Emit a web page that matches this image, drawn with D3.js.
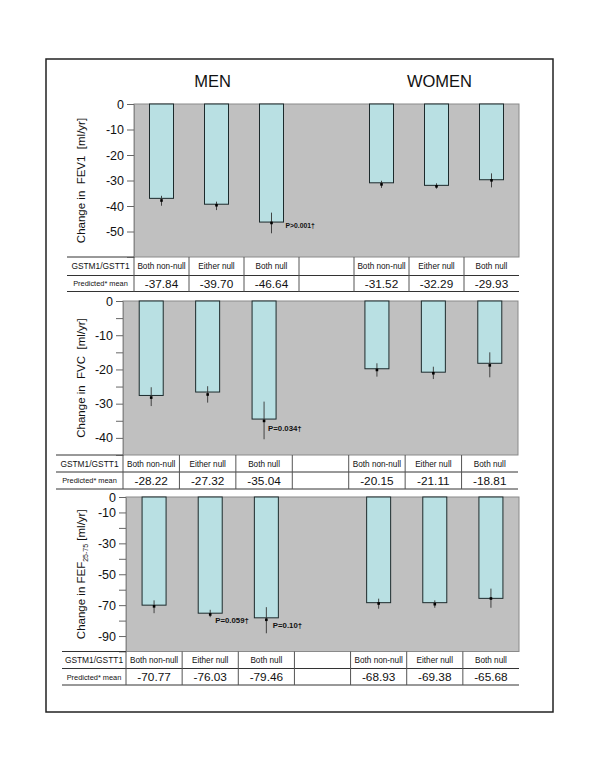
<!DOCTYPE html>
<html><head><meta charset="utf-8">
<script src="https://cdn.jsdelivr.net/npm/d3@7"></script>
<style>
body{margin:0;background:#fff}
svg{display:block}
text{font-family:"Liberation Sans",Arial,Helvetica,sans-serif;fill:#111}
</style>
</head><body>
<svg id="c" width="600" height="776"></svg>
<script>
// ---------------- DATA ----------------
const groups = ["MEN", "WOMEN"];
const categories = ["Both non-null", "Either null", "Both null"];
const rowLabels = ["GSTM1/GSTT1", "Predicted* mean"];

const fev1Bars  = [-37.0, -39.3, -46.3, -30.9, -31.9, -29.7];
const fev1Means = [-37.84, -39.70, -46.64, -31.52, -32.29, -29.93];
const fev1Low   = [-39.9, -41.6, -50.7, -32.9, -33.2, -32.7];
const fev1High  = [-36.0, -38.3, -42.6, -30.1, -31.1, -27.2];
const fev1Ticks = [0, -10, -20, -30, -40, -50];
const fev1TickLabels = ["0", "-10", "-20", "-30", "-40", "-50"];

const fvcBars  = [-27.6, -26.6, -34.5, -19.8, -20.8, -18.2];
const fvcMeans = [-28.22, -27.32, -35.04, -20.15, -21.11, -18.81];
const fvcLow   = [-30.7, -29.7, -40.4, -22.1, -22.8, -22.3];
const fvcHigh  = [-25.2, -24.9, -29.4, -18.2, -19.2, -15.0];
const fvcTicks = [0, -5, -10, -15, -20, -25, -30, -35, -40];
const fvcTickLabels = ["0", "", "-10", "", "-20", "", "-30", "", "-40"];

const fefBars  = [-70.0, -75.2, -78.2, -68.4, -68.4, -65.6];
const fefMeans = [-70.77, -76.03, -79.46, -68.93, -69.38, -65.68];
const fefLow   = [-75.2, -77.8, -88.2, -72.3, -71.7, -71.7];
const fefHigh  = [-66.9, -73.0, -71.3, -65.8, -66.9, -59.3];
const fefTicks = [0, -10, -20, -30, -40, -50, -60, -70, -80, -90];
const fefTickLabels = ["0", "-10", "", "-30", "", "-50", "", "-70", "", "-90"];

const annotations = [
  {panel: 0, index: 2, text: "P>0.001†"},
  {panel: 1, index: 2, text: "P=0.034†"},
  {panel: 2, index: 1, text: "P=0.059†"},
  {panel: 2, index: 2, text: "P=0.10†"}
];

// ---------------- LAYOUT ----------------
const panels = [
  {bars: fev1Bars, means: fev1Means, low: fev1Low, high: fev1High, ticks: fev1Ticks, tickLabels: fev1TickLabels,
   yMin: -60, top: 104, bottom: 257, left: 134, right: 519, tableLeft: 67, row1: 18.5, row2: 16,
   label: ["Change in  FEV1  [ml/yr]"], annSize: 6.8, annDy: 5.5, annDx: 14},
  {bars: fvcBars, means: fvcMeans, low: fvcLow, high: fvcHigh, ticks: fvcTicks, tickLabels: fvcTickLabels,
   yMin: -45, top: 301, bottom: 455, left: 123, right: 518, tableLeft: 56, row1: 17, row2: 17,
   label: ["Change in  FVC  [ml/yr]"], annSize: 7.8, annDy: 10, annDx: 4},
  {bars: fefBars, means: fefMeans, low: fefLow, high: fefHigh, ticks: fefTicks, tickLabels: fefTickLabels,
   yMin: -100, top: 497, bottom: 651.5, left: 126, right: 519, tableLeft: 62, row1: 17, row2: 16.5,
   label: null, annSize: 7.8, annDy: 8.5, annDx: 5}
];

const svg = d3.select("#c");
const BAR_FILL = "#b9e0e3";
const PLOT_FILL = "#c0c0c0";

// outer frame
svg.append("rect").attr("x", 46).attr("y", 59).attr("width", 507).attr("height", 653)
  .attr("fill", "none").attr("stroke", "#222").attr("stroke-width", 1.5);

// slots: 3 men, gap, 3 women
const slots = [];
groups.forEach((g, gi) => {
  categories.forEach((c, ci) => slots.push(g + "|" + c));
  if (gi === 0) slots.push("gap");
});
const dataSlots = slots.filter(s => s !== "gap");

panels.forEach((p, pi) => {
  const g = svg.append("g");
  const x = d3.scaleBand().domain(slots).range([p.left, p.right]).paddingInner(0).paddingOuter(0);
  const y = d3.scaleLinear().domain([0, p.yMin]).range([p.top, p.bottom]);
  const bw = 24;

  // plot background
  g.append("rect").attr("x", p.left).attr("y", p.top)
    .attr("width", p.right - p.left).attr("height", p.bottom - p.top)
    .attr("fill", PLOT_FILL).attr("stroke", "#8a8a8a").attr("stroke-width", 1);

  // axis
  const axis = d3.axisLeft(y).tickValues(p.ticks).tickSize(7).tickPadding(3)
    .tickFormat((d, i) => p.tickLabels[i]);
  const ax = g.append("g").attr("transform", `translate(${p.left},0)`).call(axis);
  ax.select(".domain").attr("stroke", "#8a8a8a");
  ax.selectAll(".tick line").attr("stroke", "#666");
  ax.selectAll(".tick text").attr("font-size", 12.5).attr("fill", "#111")
    .attr("font-family", "'Liberation Sans',Arial,sans-serif");

  // bars
  const cx = i => x(dataSlots[i]) + x.bandwidth() / 2;
  g.selectAll("rect.bar").data(p.bars).join("rect").attr("class", "bar")
    .attr("x", (d, i) => cx(i) - bw / 2).attr("y", y(0))
    .attr("width", bw).attr("height", d => y(d) - y(0))
    .attr("fill", BAR_FILL).attr("stroke", "#1c2a2c").attr("stroke-width", 1);

  // error bars
  g.selectAll("line.err").data(p.means).join("line").attr("class", "err")
    .attr("x1", (d, i) => cx(i)).attr("x2", (d, i) => cx(i))
    .attr("y1", (d, i) => y(p.low[i])).attr("y2", (d, i) => y(p.high[i]))
    .attr("stroke", "#333").attr("stroke-width", 0.9);
  g.selectAll("rect.dot").data(p.means).join("rect").attr("class", "dot")
    .attr("x", (d, i) => cx(i) - 1.3).attr("y", d => y(d) - 1.3)
    .attr("width", 2.6).attr("height", 2.6).attr("fill", "#000");

  // y label
  const ly = (p.top + p.bottom) / 2;
  const t = g.append("text").attr("transform", `translate(85,${ly}) rotate(-90)`)
    .attr("text-anchor", "middle").attr("font-size", 11.5).style("white-space", "pre");
  if (p.label) {
    t.text(p.label[0]);
  } else {
    t.append("tspan").text("Change in FEF");
    t.append("tspan").attr("font-size", 7).attr("dy", 3).text("25-75");
    t.append("tspan").attr("dy", -3).text(" [ml/yr]");
  }

  // table
  const r0 = p.bottom, r1 = p.bottom + p.row1, r2 = r1 + p.row2;
  [r1, r2].forEach(ry => g.append("line").attr("x1", p.tableLeft).attr("x2", p.right)
    .attr("y1", ry).attr("y2", ry).attr("stroke", "#333").attr("stroke-width", 1));
  g.append("line").attr("x1", p.tableLeft).attr("x2", p.left).attr("y1", r0).attr("y2", r0)
    .attr("stroke", "#333").attr("stroke-width", 1);
  const seps = [p.left].concat(slots.slice(0, -1).map(s => x(s) + x.bandwidth()));
  g.selectAll("line.sep").data(seps).join("line").attr("class", "sep")
    .attr("x1", d => d).attr("x2", d => d).attr("y1", r0).attr("y2", r2)
    .attr("stroke", "#555").attr("stroke-width", 1);

  const lc = (p.tableLeft + p.left) / 2;
  g.append("text").attr("x", lc).attr("y", (r0 + r1) / 2 + 3.2).attr("text-anchor", "middle")
    .attr("font-size", 8.4).text(rowLabels[0]);
  g.append("text").attr("x", lc).attr("y", (r1 + r2) / 2 + 2.8).attr("text-anchor", "middle")
    .attr("font-size", 7.4).text(rowLabels[1]);

  g.selectAll("text.cat").data(dataSlots).join("text").attr("class", "cat")
    .attr("x", (d, i) => cx(i)).attr("y", (r0 + r1) / 2 + 3.2).attr("text-anchor", "middle")
    .attr("font-size", 8.2).text(d => d.split("|")[1]);
  g.selectAll("text.val").data(p.means).join("text").attr("class", "val")
    .attr("x", (d, i) => cx(i)).attr("y", (r1 + r2) / 2 + 4.2).attr("text-anchor", "middle")
    .attr("font-size", 11.8).text(d => d.toFixed(2));

  // annotations
  annotations.filter(a => a.panel === pi).forEach(a => {
    const dx = a.text === "P=0.10†" ? 6.5 : p.annDx;
    g.append("text").attr("x", cx(a.index) + dx).attr("y", y(p.means[a.index]) + p.annDy)
      .attr("font-size", p.annSize).attr("font-weight", "bold").text(a.text);
  });

  // group titles (top panel only)
  if (pi === 0) {
    const menC = (x(slots[0]) + x(slots[2]) + x.bandwidth()) / 2;
    const womC = (x(slots[4]) + x(slots[6]) + x.bandwidth()) / 2;
    svg.append("text").attr("x", menC - 4).attr("y", 87).attr("text-anchor", "middle")
      .attr("font-size", 16.5).text(groups[0]);
    svg.append("text").attr("x", womC + 3).attr("y", 87).attr("text-anchor", "middle")
      .attr("font-size", 16.5).text(groups[1]);
  }
});
</script>
</body></html>
